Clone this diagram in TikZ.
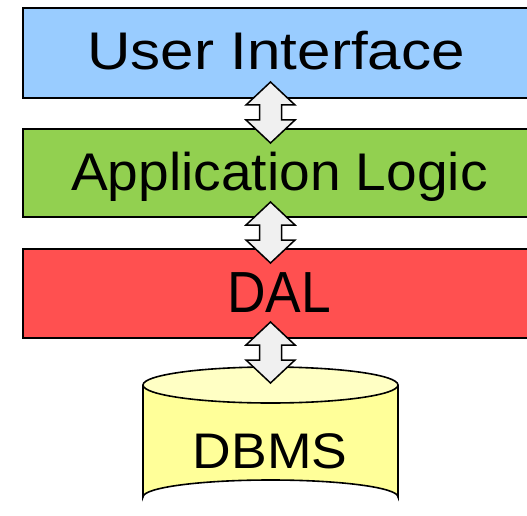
\documentclass[tikz,border=0pt]{standalone}
\usepackage{fontspec}
\setmainfont{Liberation Sans}
\newfontfamily\widestface{Liberation Sans}[FakeStretch=1.135]
\newfontfamily\wideface{Liberation Sans}[FakeStretch=1.07]
\newfontfamily\midface{Liberation Sans}[FakeStretch=1.04]
\newfontfamily\narrowface{Liberation Sans}[FakeStretch=0.92]
\usetikzlibrary{calc}

\definecolor{uiblue}{HTML}{99CCFF}
\definecolor{logicgreen}{HTML}{92D050}
\definecolor{dalred}{HTML}{FF5050}
\definecolor{dbyellow}{HTML}{FFFF99}
\definecolor{dbtop}{HTML}{FFFFC4}
\definecolor{arrowgray}{HTML}{F0F0F0}

\tikzset{
  layer/.style={draw=black, line width=1.6pt, rectangle, anchor=north west,
    minimum width=512pt, inner sep=0pt},
  caption/.style={anchor=base, inner sep=0pt},
  linkarrow/.style={draw=black, fill=arrowgray, line width=1.5pt, line join=miter},
  dbline/.style={line width=1.6pt}
}

% vertical double-headed block arrow centred on a named coordinate
\newcommand{\linkarrowat}[1]{%
  \draw[linkarrow] ($(#1)+(0,-30.5)$) -- ++(24.5,23) -- ++(-13.5,0) -- ++(0,15)
    -- ++(13.5,0) -- ++(-24.5,23) -- ++(-24.5,-23) -- ++(13.5,0) -- ++(0,-15)
    -- ++(-13.5,0) -- cycle;}

\begin{document}
\begin{tikzpicture}[x=1pt,y=-1pt]
  \useasboundingbox (0,0) rectangle (527,516);
  \clip (0,0) rectangle (527,516);

  % layered boxes
  \node[layer, fill=uiblue, minimum height=90pt]     (ui)  at (22,7)   {};
  \node[layer, fill=logicgreen, minimum height=88pt] (app) at (22,128) {};
  \node[layer, fill=dalred, minimum height=89pt]     (dal) at (22,248) {};

  \node[caption, font=\widestface\fontsize{53}{60}\selectfont] (uitext)  at (276,70)    {User Interface};
  \node[caption, font=\midface\fontsize{53}{60}\selectfont]    (apptext) at (279.5,190) {Application Logic};
  \node[caption, font=\narrowface\fontsize{58}{64}\selectfont] (daltext) at (279,312)   {DAL};

  % database cylinder
  \coordinate (dbtopc) at (270.5,385);
  \coordinate (dbbotc) at (270.5,497);
  \fill[dbyellow] (143,385) -- (143,497) arc[start angle=180,end angle=360,x radius=127.5,y radius=17]
        -- (398,385) -- cycle;
  \draw[dbline] (143,385) -- (143,497) arc[start angle=180,end angle=360,x radius=127.5,y radius=17]
        -- (398,385);
  \draw[dbline, fill=dbtop] (dbtopc) ellipse[x radius=127.5, y radius=18];
  \node[caption, font=\wideface\fontsize{50}{56}\selectfont] (db) at (270,468) {DBMS};

  % bidirectional links between the layers
  \coordinate (l1) at (270.5,112.5);
  \coordinate (l2) at (270.5,232.5);
  \coordinate (l3) at (270.5,352.5);
  \linkarrowat{l1}
  \linkarrowat{l2}
  \linkarrowat{l3}
\end{tikzpicture}
\end{document}
